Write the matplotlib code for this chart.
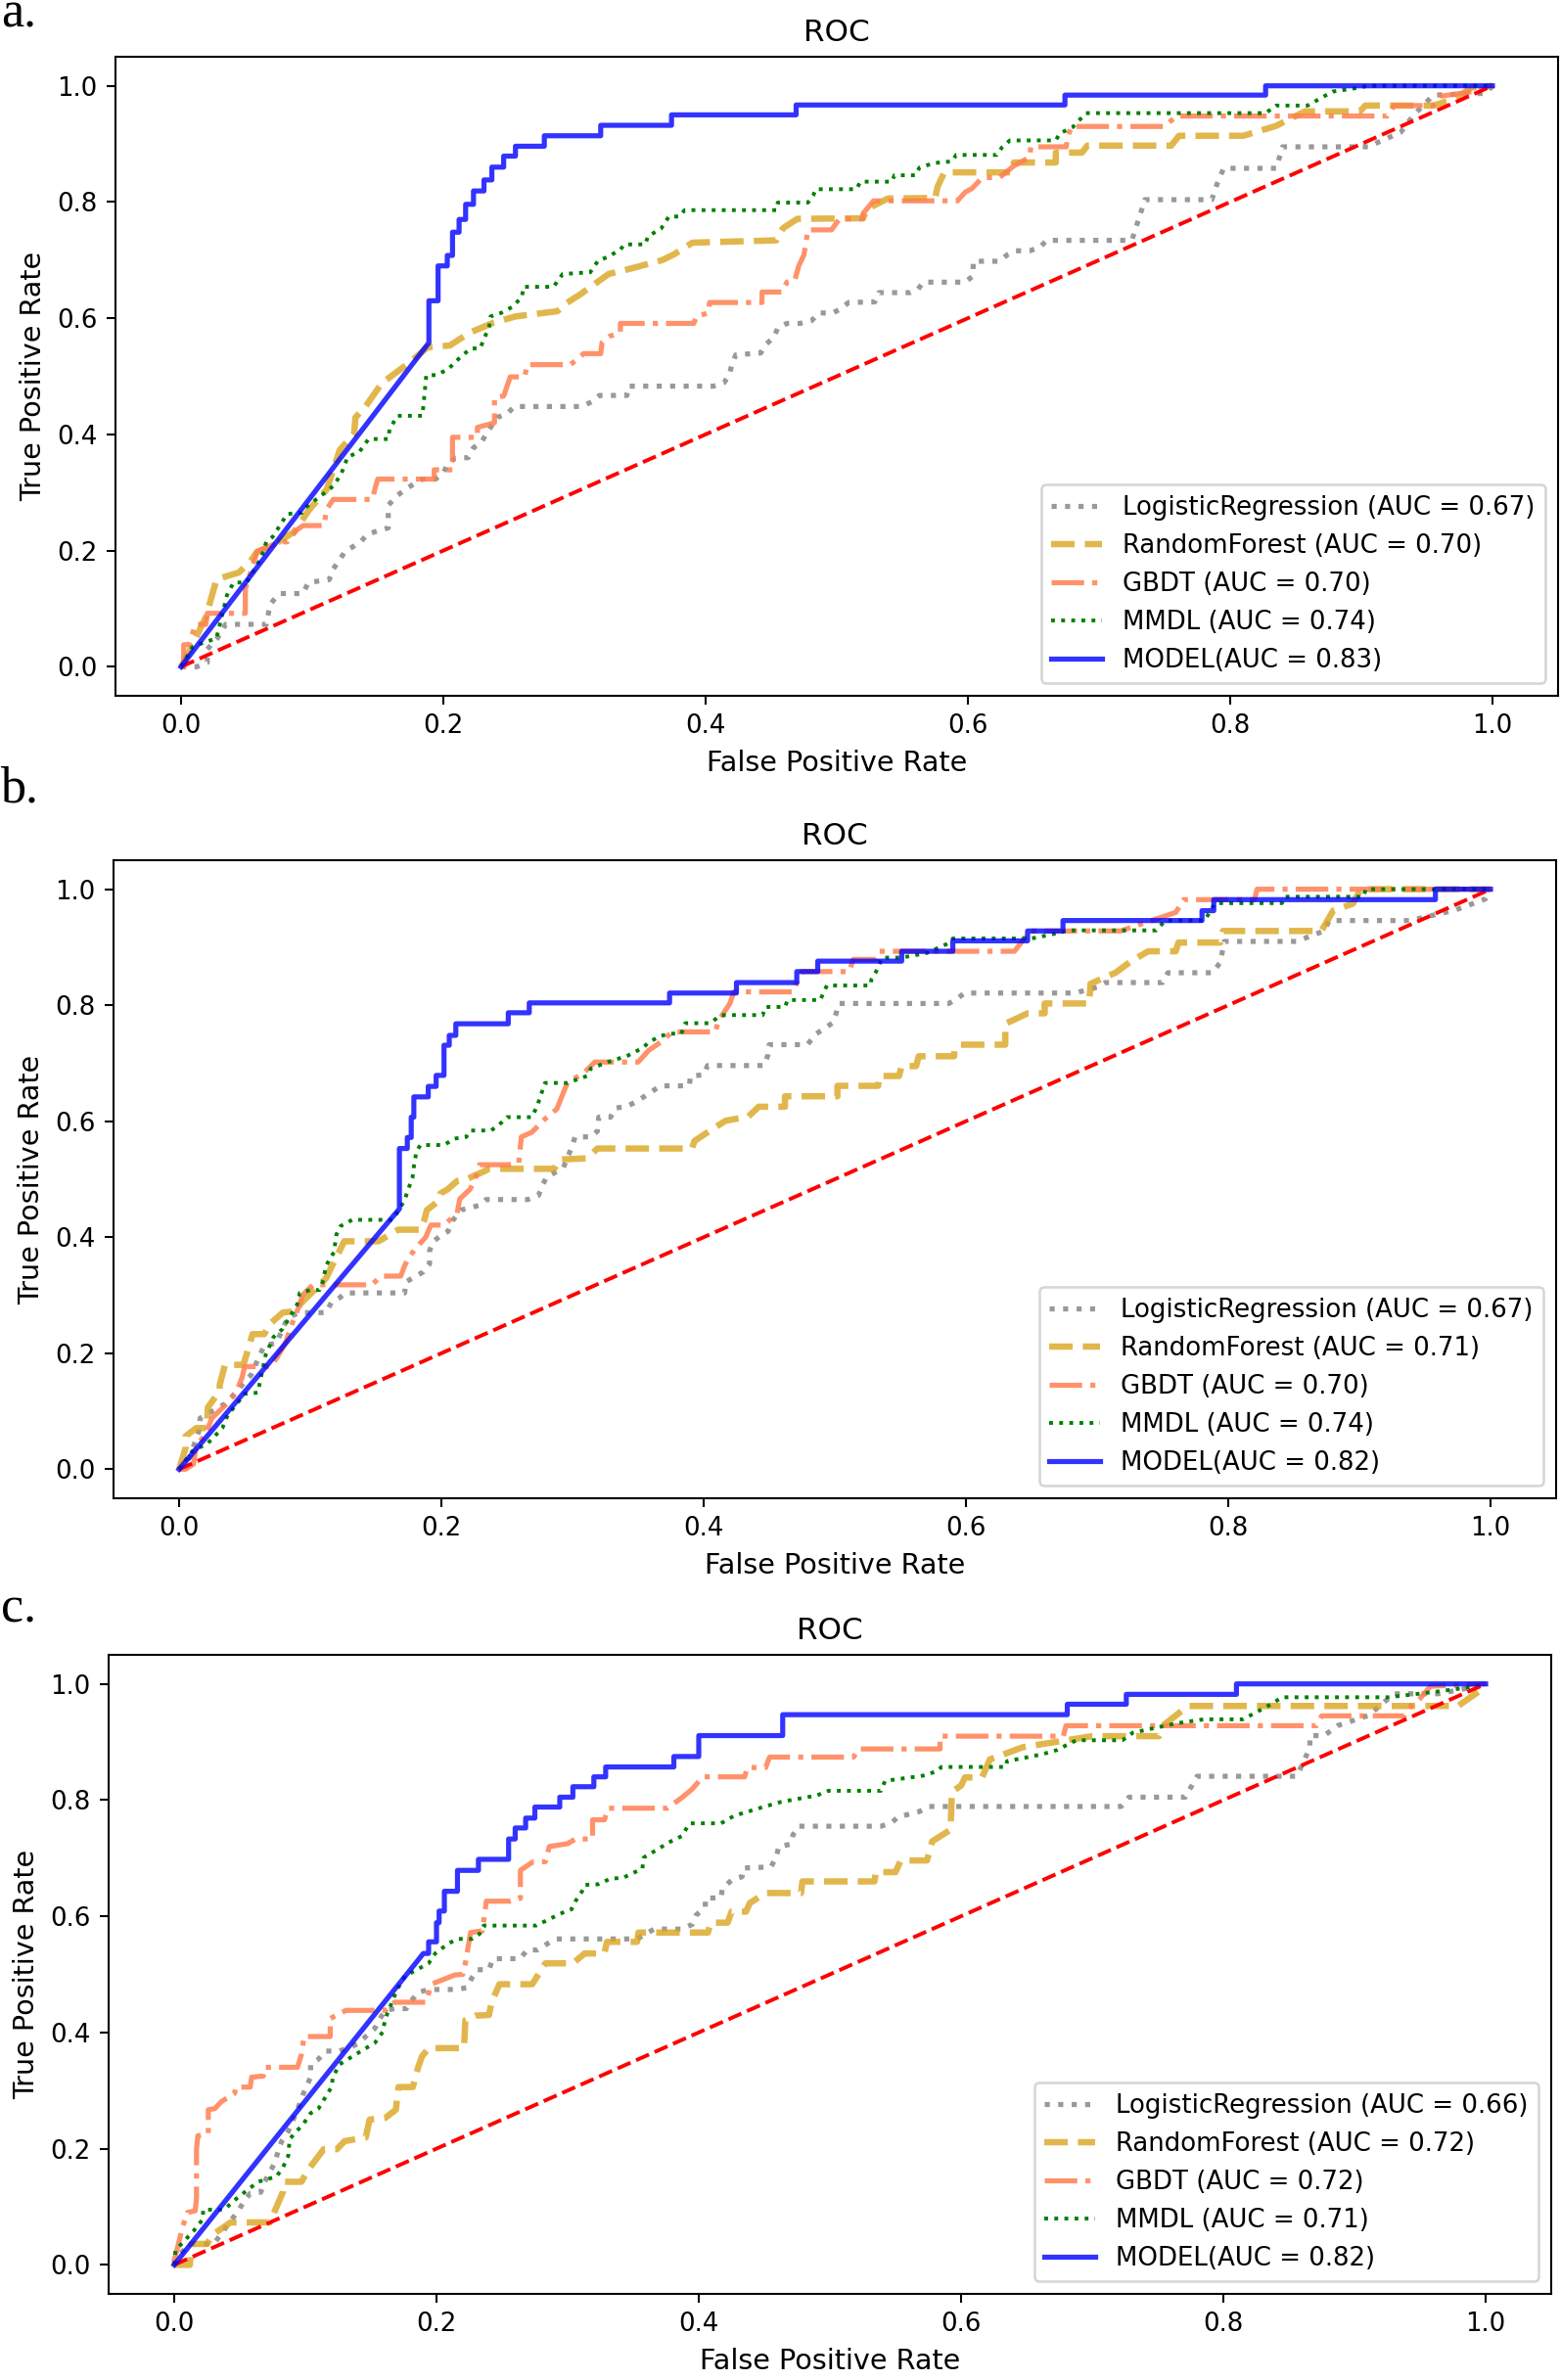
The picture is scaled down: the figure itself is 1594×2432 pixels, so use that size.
import matplotlib
matplotlib.use("Agg")
import matplotlib.pyplot as plt

W, H, DPI = 1594, 2432, 187
plt.rcParams["axes.labelsize"] = 11

MODELS = ["LogisticRegression", "RandomForest", "GBDT", "MMDL", "MODEL"]
AUC_A = [0.67, 0.70, 0.70, 0.74, 0.83]
AUC_B = [0.67, 0.71, 0.70, 0.74, 0.82]
AUC_C = [0.66, 0.72, 0.72, 0.71, 0.82]
PANEL_TAGS = ["a.", "b.", "c."]

# ---- panel a: (fpr, tpr) vertices ----
A_LR = [(0, 0), (0.012, 0.0), (0.020, 0.007), (0.020, 0.03), (0.028, 0.05), (0.034, 0.073), (0.065, 0.073),
        (0.068, 0.108), (0.075, 0.126), (0.093, 0.126), (0.097, 0.145), (0.113, 0.15), (0.116, 0.168),
        (0.125, 0.198), (0.137, 0.215), (0.142, 0.228), (0.150, 0.234), (0.158, 0.239), (0.158, 0.278),
        (0.165, 0.295), (0.171, 0.305), (0.177, 0.314), (0.184, 0.323), (0.194, 0.323), (0.200, 0.333),
        (0.203, 0.348), (0.209, 0.359), (0.219, 0.36), (0.223, 0.377), (0.229, 0.386), (0.233, 0.402),
        (0.241, 0.429), (0.249, 0.436), (0.254, 0.448), (0.306, 0.448), (0.313, 0.456), (0.319, 0.467),
        (0.340, 0.467), (0.341, 0.483), (0.406, 0.483), (0.414, 0.489), (0.418, 0.502), (0.420, 0.520),
        (0.423, 0.537), (0.442, 0.540), (0.446, 0.555), (0.452, 0.567), (0.455, 0.583), (0.462, 0.591),
        (0.472, 0.591), (0.481, 0.596), (0.486, 0.609), (0.497, 0.609), (0.503, 0.616), (0.509, 0.627),
        (0.529, 0.628), (0.532, 0.644), (0.556, 0.644), (0.562, 0.650), (0.566, 0.662), (0.598, 0.662),
        (0.604, 0.673), (0.604, 0.698), (0.624, 0.698), (0.630, 0.709), (0.636, 0.716), (0.647, 0.716),
        (0.655, 0.722), (0.660, 0.734), (0.725, 0.734), (0.735, 0.804), (0.786, 0.804), (0.790, 0.831),
        (0.795, 0.858), (0.835, 0.858), (0.840, 0.895), (0.905, 0.895), (0.915, 0.905), (0.930, 0.920),
        (0.940, 0.950), (0.955, 0.984), (0.995, 0.987), (1, 1)]
A_RF = [(0, 0), (0.005, 0.02), (0.019, 0.086), (0.027, 0.15), (0.035, 0.156), (0.044, 0.162), (0.053, 0.182),
        (0.058, 0.198), (0.071, 0.210), (0.086, 0.232), (0.098, 0.271), (0.111, 0.305), (0.121, 0.373),
        (0.132, 0.401), (0.133, 0.429), (0.141, 0.449), (0.153, 0.488), (0.175, 0.525), (0.188, 0.550),
        (0.205, 0.553), (0.220, 0.575), (0.238, 0.592), (0.255, 0.603), (0.287, 0.612), (0.294, 0.626),
        (0.305, 0.642), (0.326, 0.676), (0.344, 0.686), (0.367, 0.700), (0.376, 0.710), (0.390, 0.730),
        (0.454, 0.734), (0.459, 0.755), (0.470, 0.771), (0.520, 0.772), (0.523, 0.788), (0.539, 0.806),
        (0.575, 0.807), (0.577, 0.827), (0.582, 0.851), (0.634, 0.851), (0.635, 0.868), (0.667, 0.868),
        (0.667, 0.885), (0.687, 0.885), (0.691, 0.897), (0.755, 0.897), (0.761, 0.914), (0.810, 0.914),
        (0.835, 0.931), (0.857, 0.956), (0.899, 0.956), (0.903, 0.966), (0.955, 0.966), (0.972, 0.978),
        (0.984, 0.997), (1, 1)]
A_GBDT = [(0, 0), (0.002, 0.0), (0.002, 0.038), (0.006, 0.038), (0.011, 0.073), (0.019, 0.073), (0.020, 0.092),
          (0.049, 0.092), (0.049, 0.134), (0.058, 0.198), (0.075, 0.215), (0.081, 0.215), (0.088, 0.235),
          (0.093, 0.243), (0.109, 0.243), (0.111, 0.271), (0.116, 0.288), (0.146, 0.288), (0.148, 0.308),
          (0.150, 0.323), (0.193, 0.323), (0.193, 0.339), (0.207, 0.339), (0.207, 0.395), (0.226, 0.395),
          (0.226, 0.412), (0.239, 0.420), (0.239, 0.463), (0.246, 0.466), (0.251, 0.499), (0.262, 0.499),
          (0.264, 0.520), (0.297, 0.520), (0.307, 0.539), (0.320, 0.539), (0.321, 0.558), (0.327, 0.569),
          (0.335, 0.575), (0.335, 0.591), (0.391, 0.591), (0.393, 0.603), (0.402, 0.609), (0.403, 0.627),
          (0.443, 0.627), (0.443, 0.645), (0.458, 0.645), (0.462, 0.662), (0.468, 0.665), (0.471, 0.690),
          (0.475, 0.709), (0.478, 0.752), (0.496, 0.752), (0.502, 0.771), (0.520, 0.771), (0.520, 0.780),
          (0.528, 0.802), (0.592, 0.802), (0.598, 0.817), (0.603, 0.823), (0.611, 0.842), (0.624, 0.842),
          (0.635, 0.862), (0.647, 0.877), (0.648, 0.895), (0.675, 0.895), (0.676, 0.912), (0.679, 0.930),
          (0.750, 0.930), (0.759, 0.948), (0.920, 0.948), (0.925, 0.966), (0.955, 0.966), (0.960, 0.982),
          (0.985, 0.990), (1, 1)]
A_MMDL = [(0, 0), (0.009, 0.035), (0.027, 0.049), (0.035, 0.123), (0.040, 0.145), (0.050, 0.145), (0.056, 0.168),
          (0.061, 0.187), (0.065, 0.215), (0.070, 0.224), (0.077, 0.249), (0.081, 0.263), (0.092, 0.265),
          (0.095, 0.274), (0.103, 0.288), (0.111, 0.302), (0.116, 0.311), (0.122, 0.331), (0.127, 0.361),
          (0.136, 0.370), (0.143, 0.392), (0.158, 0.392), (0.159, 0.409), (0.165, 0.432), (0.184, 0.432),
          (0.185, 0.454), (0.187, 0.502), (0.195, 0.502), (0.204, 0.513), (0.213, 0.533), (0.221, 0.548),
          (0.228, 0.548), (0.231, 0.564), (0.235, 0.586), (0.236, 0.603), (0.244, 0.609), (0.253, 0.620),
          (0.260, 0.637), (0.261, 0.654), (0.284, 0.654), (0.291, 0.676), (0.312, 0.679), (0.318, 0.699),
          (0.325, 0.705), (0.335, 0.718), (0.338, 0.727), (0.354, 0.727), (0.356, 0.741), (0.366, 0.754),
          (0.372, 0.775), (0.380, 0.775), (0.384, 0.786), (0.454, 0.786), (0.455, 0.799), (0.478, 0.799),
          (0.482, 0.811), (0.484, 0.822), (0.515, 0.822), (0.518, 0.835), (0.542, 0.835), (0.544, 0.846),
          (0.560, 0.846), (0.563, 0.859), (0.574, 0.867), (0.588, 0.870), (0.591, 0.881), (0.622, 0.881),
          (0.626, 0.894), (0.632, 0.906), (0.667, 0.906), (0.670, 0.918), (0.680, 0.929), (0.690, 0.953),
          (0.827, 0.953), (0.835, 0.966), (0.859, 0.966), (0.878, 0.990), (0.899, 0.997), (0.905, 1.0), (1, 1)]
A_MODEL = [(0, 0), (0.189, 0.558), (0.189, 0.630), (0.196, 0.630), (0.196, 0.690), (0.203, 0.690), (0.203, 0.708),
           (0.207, 0.708), (0.207, 0.748), (0.212, 0.748), (0.212, 0.770), (0.217, 0.770), (0.217, 0.796),
           (0.223, 0.796), (0.223, 0.819), (0.231, 0.819), (0.231, 0.838), (0.237, 0.838), (0.237, 0.860),
           (0.246, 0.860), (0.246, 0.879), (0.255, 0.879), (0.255, 0.896), (0.277, 0.896), (0.277, 0.914),
           (0.320, 0.914), (0.320, 0.932), (0.374, 0.932), (0.374, 0.950), (0.469, 0.950), (0.469, 0.967),
           (0.674, 0.967), (0.674, 0.984), (0.827, 0.984), (0.827, 1.0), (1, 1)]

# ---- panel b ----
B_LR = [(0, 0), (0.008, 0.02), (0.015, 0.065), (0.016, 0.088), (0.035, 0.113), (0.041, 0.127), (0.055, 0.163),
        (0.065, 0.214), (0.074, 0.217), (0.083, 0.262), (0.092, 0.270), (0.112, 0.270), (0.116, 0.287),
        (0.122, 0.295), (0.127, 0.304), (0.172, 0.304), (0.173, 0.323), (0.186, 0.340), (0.191, 0.354),
        (0.191, 0.377), (0.194, 0.393), (0.199, 0.402), (0.205, 0.410), (0.209, 0.430), (0.215, 0.447),
        (0.229, 0.455), (0.234, 0.465), (0.266, 0.465), (0.274, 0.472), (0.277, 0.489), (0.280, 0.503),
        (0.293, 0.520), (0.299, 0.553), (0.302, 0.573), (0.314, 0.573), (0.319, 0.583), (0.320, 0.607),
        (0.329, 0.607), (0.333, 0.623), (0.341, 0.625), (0.348, 0.633), (0.355, 0.643), (0.361, 0.652),
        (0.367, 0.661), (0.389, 0.661), (0.390, 0.678), (0.400, 0.680), (0.403, 0.696), (0.446, 0.696),
        (0.449, 0.714), (0.450, 0.732), (0.479, 0.732), (0.486, 0.751), (0.498, 0.769), (0.501, 0.786),
        (0.503, 0.803), (0.587, 0.803), (0.593, 0.811), (0.599, 0.821), (0.683, 0.821), (0.700, 0.831),
        (0.706, 0.839), (0.750, 0.839), (0.754, 0.856), (0.788, 0.856), (0.794, 0.874), (0.797, 0.910),
        (0.852, 0.910), (0.873, 0.928), (0.877, 0.946), (0.939, 0.946), (0.956, 0.955), (0.973, 0.964),
        (0.996, 0.983), (1, 1)]
B_RF = [(0, 0), (0.005, 0.037), (0.005, 0.057), (0.013, 0.071), (0.021, 0.071), (0.022, 0.107), (0.031, 0.135),
        (0.031, 0.146), (0.035, 0.180), (0.049, 0.180), (0.054, 0.217), (0.056, 0.233), (0.065, 0.233),
        (0.069, 0.250), (0.079, 0.270), (0.090, 0.273), (0.092, 0.284), (0.112, 0.329), (0.118, 0.357),
        (0.126, 0.393), (0.152, 0.393), (0.167, 0.413), (0.184, 0.413), (0.187, 0.430), (0.189, 0.447),
        (0.197, 0.461), (0.199, 0.475), (0.205, 0.483), (0.212, 0.497), (0.219, 0.500), (0.233, 0.514),
        (0.236, 0.518), (0.286, 0.518), (0.290, 0.534), (0.311, 0.536), (0.319, 0.553), (0.391, 0.553),
        (0.393, 0.566), (0.409, 0.590), (0.417, 0.601), (0.434, 0.608), (0.442, 0.625), (0.462, 0.625),
        (0.462, 0.643), (0.502, 0.643), (0.502, 0.661), (0.533, 0.661), (0.534, 0.678), (0.549, 0.678),
        (0.551, 0.695), (0.562, 0.695), (0.564, 0.712), (0.591, 0.712), (0.591, 0.724), (0.596, 0.732),
        (0.630, 0.732), (0.630, 0.768), (0.647, 0.786), (0.660, 0.786), (0.660, 0.803), (0.694, 0.803),
        (0.695, 0.837), (0.714, 0.856), (0.726, 0.876), (0.739, 0.893), (0.760, 0.893), (0.762, 0.908),
        (0.794, 0.908), (0.796, 0.928), (0.871, 0.928), (0.880, 0.963), (0.895, 0.975), (0.901, 1.0), (1, 1)]
B_GBDT = [(0, 0), (0.005, 0.0), (0.011, 0.009), (0.013, 0.04), (0.020, 0.06), (0.025, 0.088), (0.035, 0.11),
          (0.043, 0.13), (0.048, 0.158), (0.050, 0.177), (0.070, 0.177), (0.075, 0.194), (0.081, 0.217),
          (0.086, 0.25), (0.092, 0.284), (0.094, 0.300), (0.102, 0.318), (0.147, 0.318), (0.154, 0.333),
          (0.169, 0.333), (0.172, 0.351), (0.176, 0.368), (0.182, 0.385), (0.188, 0.40), (0.192, 0.421),
          (0.202, 0.421), (0.212, 0.441), (0.214, 0.466), (0.222, 0.483), (0.227, 0.508), (0.229, 0.525),
          (0.251, 0.525), (0.259, 0.528), (0.261, 0.573), (0.269, 0.581), (0.279, 0.604), (0.288, 0.621),
          (0.296, 0.666), (0.309, 0.684), (0.317, 0.702), (0.350, 0.702), (0.358, 0.722), (0.367, 0.736),
          (0.376, 0.754), (0.409, 0.754), (0.411, 0.772), (0.420, 0.803), (0.423, 0.823), (0.468, 0.823),
          (0.475, 0.858), (0.511, 0.858), (0.514, 0.879), (0.532, 0.879), (0.534, 0.893), (0.637, 0.893),
          (0.649, 0.928), (0.718, 0.928), (0.740, 0.945), (0.760, 0.960), (0.766, 0.982), (0.820, 0.982),
          (0.822, 1.0), (1, 1)]
B_MMDL = [(0, 0), (0.010, 0.031), (0.022, 0.045), (0.033, 0.071), (0.037, 0.093), (0.050, 0.130), (0.060, 0.132),
          (0.066, 0.197), (0.072, 0.228), (0.079, 0.242), (0.090, 0.284), (0.092, 0.304), (0.100, 0.309),
          (0.107, 0.309), (0.110, 0.326), (0.112, 0.351), (0.118, 0.374), (0.120, 0.405), (0.123, 0.419),
          (0.132, 0.430), (0.163, 0.430), (0.172, 0.464), (0.174, 0.478), (0.178, 0.503), (0.179, 0.522),
          (0.181, 0.548), (0.184, 0.559), (0.202, 0.559), (0.210, 0.570), (0.219, 0.573), (0.222, 0.584),
          (0.238, 0.584), (0.246, 0.598), (0.250, 0.607), (0.269, 0.607), (0.273, 0.626), (0.279, 0.666),
          (0.296, 0.666), (0.311, 0.678), (0.314, 0.691), (0.327, 0.702), (0.342, 0.713), (0.354, 0.727),
          (0.358, 0.736), (0.367, 0.747), (0.375, 0.751), (0.383, 0.751), (0.386, 0.769), (0.405, 0.769),
          (0.413, 0.783), (0.445, 0.783), (0.447, 0.797), (0.462, 0.797), (0.464, 0.809), (0.489, 0.809),
          (0.491, 0.820), (0.494, 0.834), (0.527, 0.834), (0.528, 0.845), (0.531, 0.856), (0.534, 0.870),
          (0.536, 0.882), (0.551, 0.882), (0.570, 0.890), (0.587, 0.907), (0.590, 0.915), (0.650, 0.915),
          (0.665, 0.922), (0.679, 0.929), (0.745, 0.929), (0.752, 0.946), (0.782, 0.946), (0.790, 0.976),
          (0.841, 0.976), (0.843, 0.987), (0.903, 0.987), (0.905, 1.0), (1, 1)]
B_MODEL = [(0, 0), (0.168, 0.449), (0.168, 0.553), (0.174, 0.553), (0.174, 0.572), (0.177, 0.572), (0.177, 0.607),
           (0.179, 0.607), (0.179, 0.642), (0.190, 0.642), (0.190, 0.660), (0.196, 0.660), (0.196, 0.679),
           (0.202, 0.679), (0.202, 0.731), (0.206, 0.731), (0.206, 0.748), (0.211, 0.748), (0.211, 0.768),
           (0.251, 0.768), (0.251, 0.787), (0.267, 0.787), (0.267, 0.804), (0.374, 0.804), (0.374, 0.821),
           (0.425, 0.821), (0.425, 0.839), (0.471, 0.839), (0.471, 0.858), (0.487, 0.858), (0.487, 0.876),
           (0.551, 0.876), (0.551, 0.893), (0.590, 0.893), (0.590, 0.911), (0.647, 0.911), (0.647, 0.928),
           (0.674, 0.928), (0.674, 0.946), (0.780, 0.946), (0.780, 0.963), (0.789, 0.963), (0.789, 0.982),
           (0.958, 0.982), (0.958, 1.0), (1, 1)]

# ---- panel c ----
C_LR = [(0, 0), (0.005, 0.02), (0.012, 0.036), (0.030, 0.036), (0.036, 0.053), (0.041, 0.070), (0.049, 0.093),
        (0.053, 0.109), (0.058, 0.123), (0.066, 0.125), (0.069, 0.143), (0.073, 0.160), (0.077, 0.177),
        (0.079, 0.194), (0.082, 0.213), (0.087, 0.230), (0.094, 0.267), (0.098, 0.292), (0.104, 0.323),
        (0.104, 0.345), (0.110, 0.354), (0.115, 0.368), (0.126, 0.368), (0.140, 0.380), (0.146, 0.393),
        (0.153, 0.407), (0.156, 0.421), (0.161, 0.438), (0.168, 0.441), (0.177, 0.441), (0.181, 0.455),
        (0.186, 0.469), (0.194, 0.474), (0.215, 0.474), (0.223, 0.477), (0.227, 0.494), (0.231, 0.508),
        (0.240, 0.508), (0.243, 0.527), (0.264, 0.527), (0.269, 0.542), (0.277, 0.542), (0.284, 0.552),
        (0.291, 0.561), (0.353, 0.561), (0.366, 0.578), (0.387, 0.578), (0.395, 0.586), (0.398, 0.602),
        (0.405, 0.616), (0.405, 0.631), (0.417, 0.632), (0.418, 0.648), (0.425, 0.662), (0.433, 0.668),
        (0.434, 0.683), (0.455, 0.685), (0.459, 0.701), (0.461, 0.720), (0.470, 0.724), (0.472, 0.741),
        (0.476, 0.755), (0.539, 0.755), (0.547, 0.761), (0.552, 0.771), (0.568, 0.780), (0.575, 0.789),
        (0.722, 0.789), (0.728, 0.805), (0.771, 0.805), (0.780, 0.841), (0.856, 0.841), (0.866, 0.890),
        (0.866, 0.911), (0.877, 0.911), (0.887, 0.928), (0.911, 0.946), (0.930, 0.983), (0.964, 0.983),
        (0.994, 0.996), (1, 1)]
C_RF = [(0, 0), (0.012, 0.0), (0.013, 0.036), (0.025, 0.036), (0.030, 0.053), (0.043, 0.073), (0.073, 0.073),
        (0.083, 0.126), (0.084, 0.143), (0.097, 0.143), (0.102, 0.163), (0.114, 0.199), (0.124, 0.199),
        (0.130, 0.213), (0.146, 0.219), (0.149, 0.250), (0.161, 0.253), (0.169, 0.267), (0.171, 0.306),
        (0.182, 0.306), (0.186, 0.340), (0.189, 0.359), (0.194, 0.373), (0.221, 0.373), (0.222, 0.421),
        (0.230, 0.429), (0.240, 0.430), (0.242, 0.452), (0.248, 0.483), (0.273, 0.483), (0.283, 0.519),
        (0.304, 0.519), (0.313, 0.536), (0.328, 0.536), (0.330, 0.556), (0.353, 0.556), (0.354, 0.572),
        (0.407, 0.572), (0.409, 0.589), (0.422, 0.589), (0.425, 0.608), (0.436, 0.608), (0.439, 0.623),
        (0.451, 0.640), (0.478, 0.640), (0.479, 0.660), (0.534, 0.660), (0.535, 0.676), (0.550, 0.676),
        (0.554, 0.696), (0.574, 0.696), (0.578, 0.729), (0.592, 0.749), (0.593, 0.814), (0.600, 0.825),
        (0.603, 0.839), (0.616, 0.839), (0.622, 0.870), (0.647, 0.891), (0.700, 0.910), (0.751, 0.910),
        (0.755, 0.930), (0.773, 0.962), (0.979, 0.962), (0.998, 0.992), (1, 1)]
C_GBDT = [(0, 0), (0.0, 0.008), (0.002, 0.025), (0.006, 0.062), (0.010, 0.09), (0.016, 0.093), (0.017, 0.115),
          (0.017, 0.199), (0.018, 0.222), (0.026, 0.226), (0.026, 0.267), (0.031, 0.269), (0.036, 0.281),
          (0.046, 0.295), (0.047, 0.306), (0.058, 0.306), (0.059, 0.323), (0.068, 0.325), (0.069, 0.340),
          (0.094, 0.340), (0.097, 0.362), (0.099, 0.393), (0.119, 0.393), (0.119, 0.424), (0.131, 0.438),
          (0.161, 0.438), (0.168, 0.452), (0.192, 0.452), (0.196, 0.483), (0.214, 0.499), (0.220, 0.500),
          (0.222, 0.519), (0.226, 0.572), (0.235, 0.575), (0.238, 0.626), (0.256, 0.626), (0.264, 0.631),
          (0.264, 0.679), (0.273, 0.693), (0.283, 0.694), (0.286, 0.720), (0.300, 0.725), (0.306, 0.733),
          (0.319, 0.733), (0.319, 0.766), (0.328, 0.766), (0.331, 0.786), (0.376, 0.786), (0.387, 0.804),
          (0.395, 0.819), (0.403, 0.840), (0.435, 0.840), (0.437, 0.856), (0.451, 0.856), (0.454, 0.874),
          (0.518, 0.874), (0.522, 0.888), (0.584, 0.888), (0.584, 0.910), (0.678, 0.910), (0.680, 0.928),
          (0.871, 0.928), (0.875, 0.945), (0.938, 0.945), (0.943, 0.962), (0.950, 0.975), (0.958, 0.996), (1, 1)]
C_MMDL = [(0, 0), (0.001, 0.025), (0.015, 0.059), (0.022, 0.079), (0.022, 0.095), (0.038, 0.095), (0.048, 0.115),
          (0.064, 0.143), (0.078, 0.152), (0.083, 0.168), (0.087, 0.188), (0.088, 0.216), (0.092, 0.227),
          (0.098, 0.241), (0.104, 0.261), (0.110, 0.269), (0.120, 0.306), (0.121, 0.323), (0.126, 0.345),
          (0.144, 0.370), (0.153, 0.382), (0.159, 0.401), (0.161, 0.424), (0.170, 0.474), (0.176, 0.497),
          (0.194, 0.519), (0.199, 0.536), (0.209, 0.553), (0.216, 0.561), (0.227, 0.561), (0.233, 0.570),
          (0.236, 0.584), (0.276, 0.584), (0.286, 0.595), (0.296, 0.606), (0.303, 0.612), (0.306, 0.626),
          (0.311, 0.643), (0.313, 0.654), (0.323, 0.655), (0.333, 0.665), (0.342, 0.666), (0.357, 0.682),
          (0.358, 0.701), (0.367, 0.713), (0.377, 0.727), (0.387, 0.738), (0.393, 0.760), (0.417, 0.760),
          (0.427, 0.773), (0.446, 0.786), (0.463, 0.797), (0.490, 0.808), (0.499, 0.816), (0.539, 0.816),
          (0.542, 0.833), (0.571, 0.842), (0.582, 0.850), (0.585, 0.857), (0.634, 0.857), (0.635, 0.867),
          (0.649, 0.873), (0.662, 0.879), (0.673, 0.886), (0.679, 0.893), (0.688, 0.903), (0.723, 0.903),
          (0.731, 0.916), (0.764, 0.932), (0.785, 0.939), (0.815, 0.939), (0.834, 0.962), (0.845, 0.977),
          (0.926, 0.977), (0.964, 0.987), (0.994, 0.996), (1, 1)]
C_MODEL = [(0, 0), (0.190, 0.536), (0.194, 0.536), (0.194, 0.556), (0.200, 0.556), (0.200, 0.589), (0.202, 0.589),
           (0.202, 0.609), (0.206, 0.609), (0.206, 0.643), (0.216, 0.643), (0.216, 0.679), (0.232, 0.679),
           (0.232, 0.698), (0.255, 0.698), (0.255, 0.733), (0.260, 0.733), (0.260, 0.752), (0.268, 0.752),
           (0.268, 0.769), (0.275, 0.769), (0.275, 0.788), (0.294, 0.788), (0.294, 0.805), (0.304, 0.805),
           (0.304, 0.823), (0.320, 0.823), (0.320, 0.840), (0.329, 0.840), (0.329, 0.857), (0.381, 0.857),
           (0.381, 0.875), (0.400, 0.875), (0.400, 0.911), (0.464, 0.911), (0.464, 0.947), (0.681, 0.947),
           (0.681, 0.965), (0.726, 0.965), (0.726, 0.982), (0.810, 0.982), (0.810, 1.0), (1, 1)]

STYLES = [
    dict(color="grey", linestyle=":", lw=2, alpha=0.8),
    dict(color="goldenrod", linestyle="--", lw=2.5, alpha=0.8),
    dict(color="coral", linestyle="-.", lw=2, alpha=0.85),
    dict(color="green", linestyle=":", lw=1.5),
    dict(color="blue", linestyle="-", lw=2, alpha=0.8),
]

# axes boxes in pixels: left, top, right, bottom
BOXES = [(118, 58, 1592, 711), (116, 879, 1590, 1531), (111, 1691, 1585, 2344)]
TAG_BASE = [27, 820, 1657]


def label_for(name, auc):
    if name == "MODEL":
        return f"MODEL(AUC = {auc:.2f})"
    return f"{name} (AUC = {auc:.2f})"


def draw_panel(ax, curves, aucs):
    for name, pts, auc, st in zip(MODELS, curves, aucs, STYLES):
        if name == "MODEL":                                   # diagonal sits under the proposed model
            ax.plot([0, 1], [0, 1], color="red", linestyle="--", lw=1.5)
        xs = [p[0] for p in pts]; ys = [p[1] for p in pts]
        ax.plot(xs, ys, label=label_for(name, auc), **st)
    ax.set_title("ROC")
    ax.set_xlabel("False Positive Rate")
    ax.set_ylabel("True Positive Rate")
    ax.legend(loc="lower right")


fig = plt.figure(figsize=(W / DPI, H / DPI), dpi=DPI)
panels = [([A_LR, A_RF, A_GBDT, A_MMDL, A_MODEL], AUC_A),
          ([B_LR, B_RF, B_GBDT, B_MMDL, B_MODEL], AUC_B),
          ([C_LR, C_RF, C_GBDT, C_MMDL, C_MODEL], AUC_C)]
for (curves, aucs), (l, t, r, b), tag, base in zip(panels, BOXES, PANEL_TAGS, TAG_BASE):
    ax = fig.add_axes([l / W, 1 - b / H, (r - l) / W, (b - t) / H])
    draw_panel(ax, curves, aucs)
    fig.text(1 / W, 1 - base / H, tag, family="Liberation Serif", fontsize=20, va="baseline")

fig.savefig("out.png", dpi=DPI)
